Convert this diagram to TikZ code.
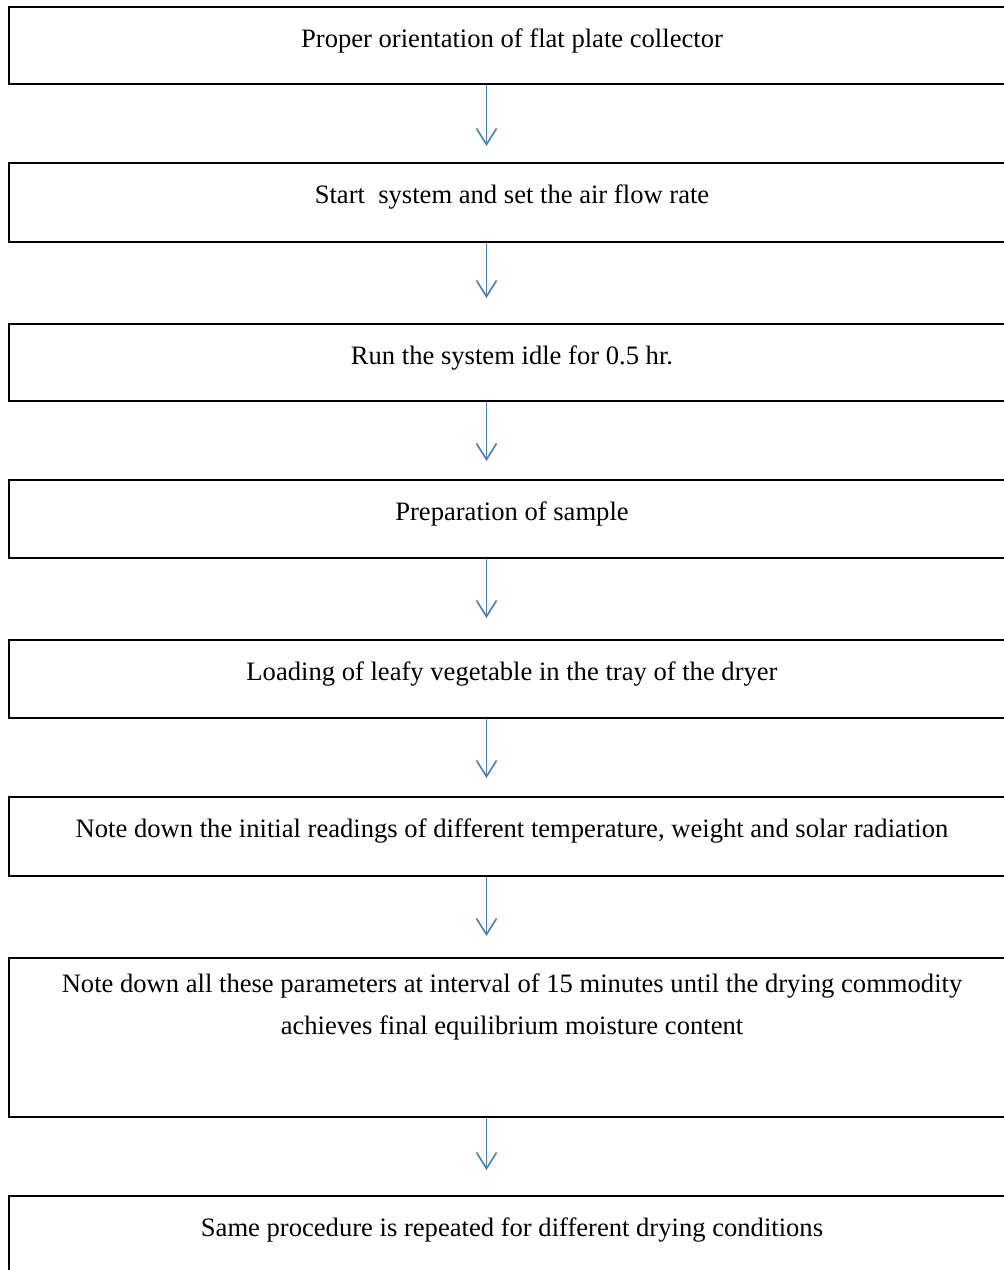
\documentclass[tikz,border=0pt]{standalone}
\usepackage{fontspec}
\setmainfont{Liberation Serif}
\usetikzlibrary{arrows.meta}
\definecolor{arrblue}{HTML}{4A7EBB}
\begin{document}
\begin{tikzpicture}[x=1pt,y=-1pt,
  stepbox/.style={draw=black,line width=2.4pt,rectangle,inner sep=0pt},
  steptext/.style={anchor=base,inner sep=0pt,align=center,font=\fontsize{26.6}{42}\selectfont},
  flowarrow/.style={draw=arrblue,line width=1.6pt,-{Straight Barb[length=16pt,width=20pt,line width=1.6pt]}}]
\useasboundingbox (0,0) rectangle (1004,1270);
\clip (0,0) rectangle (1004,1270);
% boxes: left 9, right 1015
\node[stepbox,minimum width=1006pt,minimum height=77pt] (b1) at (512,45.5) {};
\node[stepbox,minimum width=1006pt,minimum height=79pt] (b2) at (512,202.5) {};
\node[stepbox,minimum width=1006pt,minimum height=77pt] (b3) at (512,362.5) {};
\node[stepbox,minimum width=1006pt,minimum height=78pt] (b4) at (512,519) {};
\node[stepbox,minimum width=1006pt,minimum height=78pt] (b5) at (512,679) {};
\node[stepbox,minimum width=1006pt,minimum height=79pt] (b6) at (512,836.5) {};
\node[stepbox,minimum width=1006pt,minimum height=159pt] (b7) at (512,1037.5) {};
\node[stepbox,minimum width=1006pt,minimum height=120pt] (b8) at (512,1256) {};
% texts
\node[steptext] (t1) at (512,47) {Proper orientation of flat plate collector};
\node[steptext] (t2) at (512,203) {Start\ \ system and set the air flow rate};
\node[steptext] (t3) at (512,364) {Run the system idle for 0.5 hr.};
\node[steptext] (t4) at (512,520) {Preparation of sample};
\node[steptext] (t5) at (512,680) {Loading of leafy vegetable in the tray of the dryer};
\node[steptext] (t6) at (512,837) {Note down the initial readings of different temperature, weight and solar radiation};
\node[steptext,anchor=north] (t7) at (512,974) {Note down all these parameters at interval of 15 minutes until the drying commodity\\achieves final equilibrium moisture content};
\node[steptext] (t8) at (512,1236) {Same procedure is repeated for different drying conditions};
% arrow tips
\coordinate (ax) at (486.5,0);
\coordinate (e1) at (486.5,146);
\coordinate (e2) at (486.5,298);
\coordinate (e3) at (486.5,461);
\coordinate (e4) at (486.5,618);
\coordinate (e5) at (486.5,778);
\coordinate (e6) at (486.5,936);
\coordinate (e7) at (486.5,1170);
\draw[flowarrow] (b1.south -| ax) -- (e1);
\draw[flowarrow] (b2.south -| ax) -- (e2);
\draw[flowarrow] (b3.south -| ax) -- (e3);
\draw[flowarrow] (b4.south -| ax) -- (e4);
\draw[flowarrow] (b5.south -| ax) -- (e5);
\draw[flowarrow] (b6.south -| ax) -- (e6);
\draw[flowarrow] (b7.south -| ax) -- (e7);
\end{tikzpicture}
\end{document}
